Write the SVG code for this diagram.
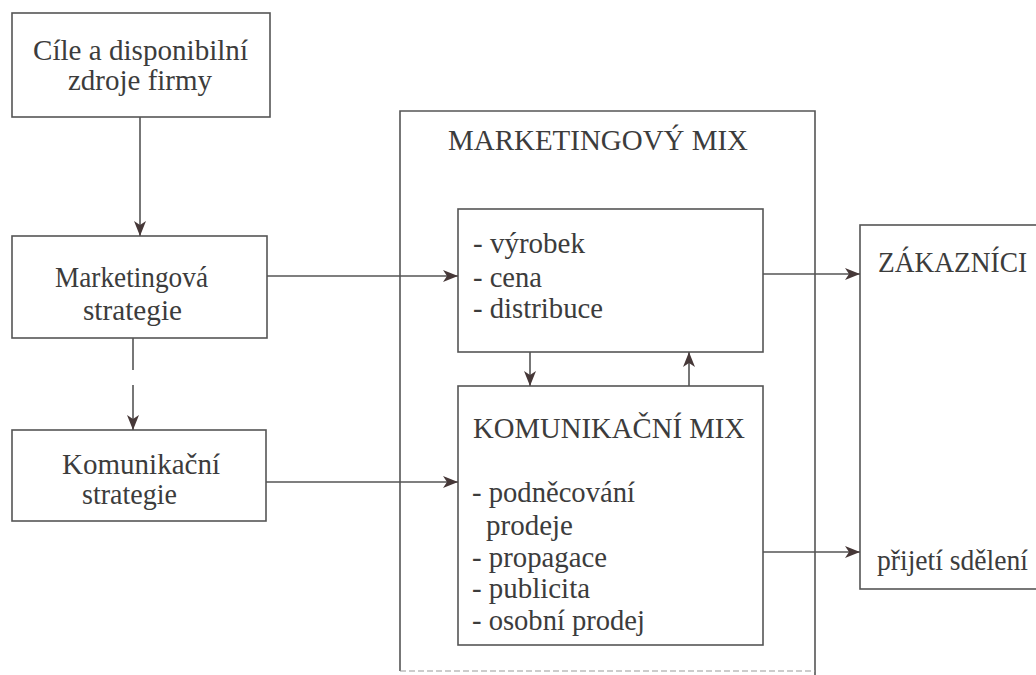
<svg xmlns="http://www.w3.org/2000/svg" width="1036" height="675" viewBox="0 0 1036 675">
<style>
.box{fill:none;stroke:#555;stroke-width:1.6}
.t{fill:#3c3c3c;font-size:29px;font-family:"Liberation Serif","DejaVu Serif","Noto Serif",serif}
.conn line{stroke:#555;stroke-width:1.6}
</style>
<defs>
<marker id="ah" markerUnits="userSpaceOnUse" markerWidth="16" markerHeight="13" refX="15" refY="6.5" orient="auto">
<path d="M0,0.5 L15,6.5 L0,12.5 L4,6.5 z" fill="#463838"/>
</marker>
</defs>
<rect width="1036" height="675" fill="#fff"/>
<g id="cile">
<rect class="box" x="12" y="13" width="258" height="104"/>
<text class="t" x="33" y="60" textLength="215" lengthAdjust="spacingAndGlyphs">Cíle a disponibilní</text>
<text class="t" x="68" y="90" textLength="144" lengthAdjust="spacingAndGlyphs">zdroje firmy</text>
</g>
<g id="mstrategie">
<rect class="box" x="12" y="236" width="255" height="102"/>
<text class="t" x="55" y="287" textLength="153" lengthAdjust="spacingAndGlyphs">Marketingová</text>
<text class="t" x="83" y="320" textLength="99" lengthAdjust="spacingAndGlyphs">strategie</text>
</g>
<g id="kstrategie">
<rect class="box" x="12" y="430" width="254" height="91"/>
<text class="t" x="62" y="474" textLength="158" lengthAdjust="spacingAndGlyphs">Komunikační</text>
<text class="t" x="82" y="504" textLength="95" lengthAdjust="spacingAndGlyphs">strategie</text>
</g>
<g id="mmix">
<path class="box" d="M400,671 V111 H815 V675"/>
<path d="M400,671 H815" fill="none" stroke="#999" stroke-width="1.2" stroke-dasharray="6 3"/>
<text class="t" x="448" y="150" textLength="300" lengthAdjust="spacingAndGlyphs">MARKETINGOVÝ MIX</text>
</g>
<g id="vyrobek">
<rect class="box" x="458" y="209" width="305" height="143"/>
<text class="t" x="473" y="253" textLength="112" lengthAdjust="spacingAndGlyphs">- výrobek</text>
<text class="t" x="473" y="287" textLength="69" lengthAdjust="spacingAndGlyphs">- cena</text>
<text class="t" x="473" y="318" textLength="130" lengthAdjust="spacingAndGlyphs">- distribuce</text>
</g>
<g id="kmix">
<rect class="box" x="458" y="386" width="305" height="259"/>
<text class="t" x="473" y="438" textLength="272" lengthAdjust="spacingAndGlyphs">KOMUNIKAČNÍ MIX</text>
<text class="t" x="472" y="502" textLength="163" lengthAdjust="spacingAndGlyphs">- podněcování</text>
<text class="t" x="486" y="535" textLength="87" lengthAdjust="spacingAndGlyphs">prodeje</text>
<text class="t" x="472" y="567" textLength="135" lengthAdjust="spacingAndGlyphs">- propagace</text>
<text class="t" x="472" y="598" textLength="118" lengthAdjust="spacingAndGlyphs">- publicita</text>
<text class="t" x="472" y="630" textLength="173" lengthAdjust="spacingAndGlyphs">- osobní prodej</text>
</g>
<g id="zakaznici">
<rect class="box" x="860" y="225" width="190" height="364"/>
<text class="t" x="878" y="272" textLength="149" lengthAdjust="spacingAndGlyphs">ZÁKAZNÍCI</text>
<text class="t" x="877" y="570" textLength="151" lengthAdjust="spacingAndGlyphs">přijetí sdělení</text>
</g>
<g id="connectors" class="conn">
<line x1="140" y1="117" x2="140" y2="236" marker-end="url(#ah)"/>
<line x1="133" y1="338" x2="133" y2="370"/>
<line x1="133" y1="385" x2="133" y2="430" marker-end="url(#ah)"/>
<line x1="267" y1="276" x2="458" y2="276" marker-end="url(#ah)"/>
<line x1="266" y1="482" x2="458" y2="482" marker-end="url(#ah)"/>
<line x1="530" y1="352" x2="530" y2="386" marker-end="url(#ah)"/>
<line x1="689" y1="386" x2="689" y2="352" marker-end="url(#ah)"/>
<line x1="763" y1="274" x2="860" y2="274" marker-end="url(#ah)"/>
<line x1="763" y1="552" x2="860" y2="552" marker-end="url(#ah)"/>
</g>
</svg>
